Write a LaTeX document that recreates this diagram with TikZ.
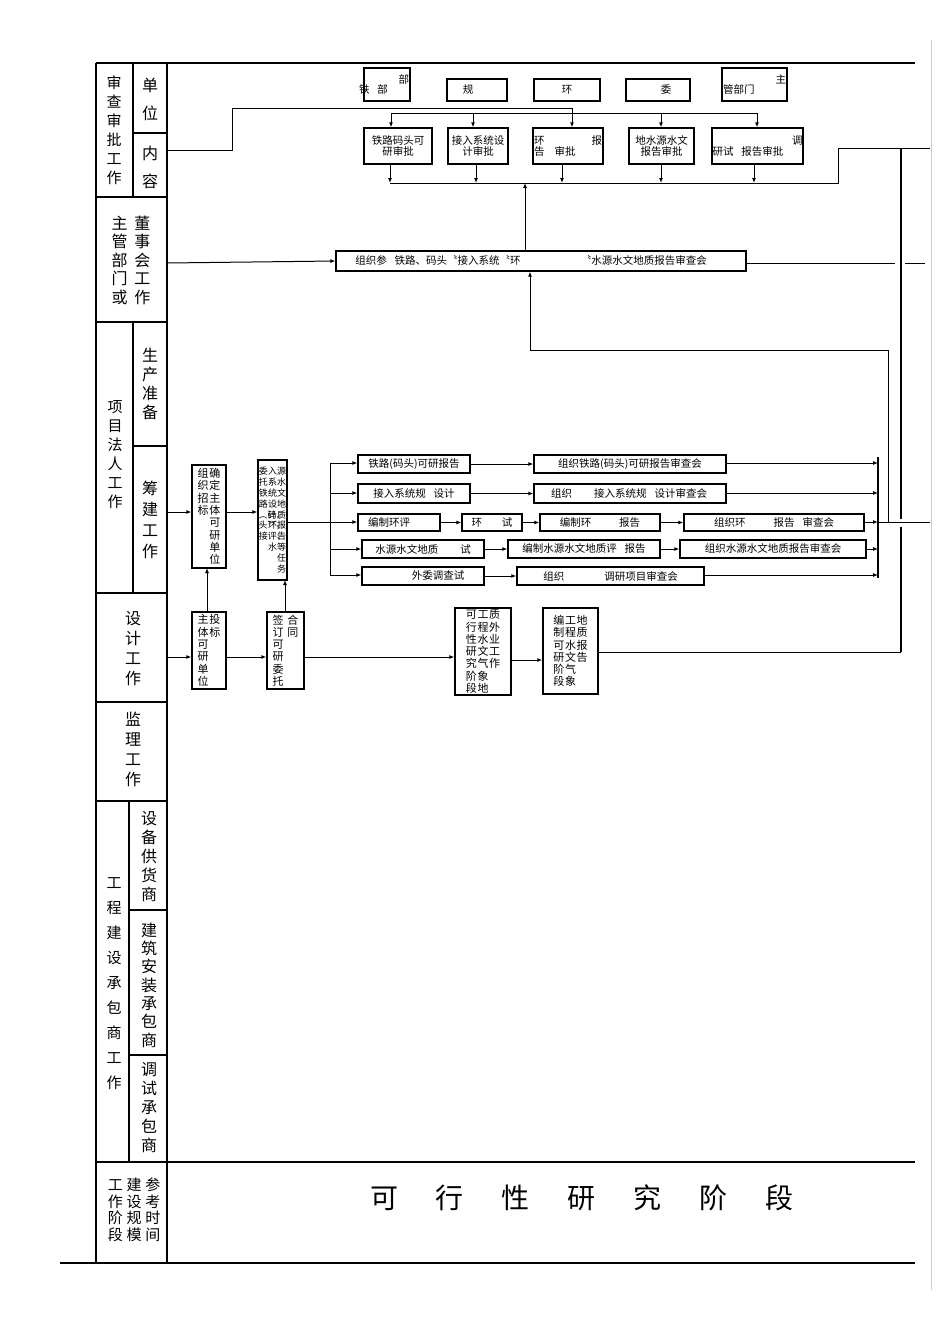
\documentclass[tikz,border=0pt]{standalone}
\usepackage{fontspec}
\setmainfont{Noto Sans CJK SC}
\usetikzlibrary{arrows.meta}
\XeTeXlinebreaklocale "zh"
\XeTeXlinebreakskip=0pt plus 1pt
\newcommand\vt[3]{{\fontsize{#1}{#2}\selectfont\parbox[t]{1.05em}{\centering #3}}}
\newcommand\bx[6]{\node[bxs,minimum width={(#4-#2)*1pt},minimum height={(#5-#3)*1pt}] (#1) at ({(#2+#4)/2},{(#3+#5)/2}) {#6};}
\tikzset{bxs/.style={draw,line width=1.3pt,inner sep=0pt,font=\fontsize{10.5}{11.5}\selectfont},
 frm/.style={line width=1.6pt},
 ln/.style={line width=1pt},
 ar/.style={line width=1pt,-{Latex[length=5pt,width=4pt]}},
 lab/.style={inner sep=0pt,anchor=center}}
\begin{document}
\begin{tikzpicture}[x=1pt,y=-1pt]
\useasboundingbox (0,0) rectangle (950,1344);
\fill[white] (0,0) rectangle (950,1344);
% frame
\draw[frm] (96,63) -- (915,63);
\draw[frm] (96,63) -- (96,1263);
\draw[frm] (167,63) -- (167,1263);
\draw[frm] (60,1263) -- (915,1263);
\draw[frm] (96,1162) -- (915,1162);
\draw[frm] (133,63) -- (133,197);
\draw[frm] (133,133) -- (167,133);
\draw[frm] (96,197) -- (167,197);
\draw[frm] (96,322) -- (167,322);
\draw[frm] (133,322) -- (133,593);
\draw[frm] (133,446) -- (167,446);
\draw[frm] (96,593) -- (167,593);
\draw[frm] (96,702) -- (167,702);
\draw[frm] (96,801) -- (167,801);
\draw[frm] (129,801) -- (129,1162);
\draw[frm] (129,910) -- (167,910);
\draw[frm] (129,1055) -- (167,1055);
\draw[gray!40,line width=0.8pt] (931,40) -- (931,1290);
% labels
\node[lab] (l1) at (114,130) {\vt{15}{19}{审查审批工作}};
\node[lab] (l2) at (150,99) {\vt{16}{28}{单位}};
\node[lab] (l3) at (150,167) {\vt{16}{28}{内容}};
\node[lab] (l4) at (131,260) {\vt{16}{18.5}{主管部门或}\hspace{6pt}\vt{16}{18.5}{董事会工作}};
\node[lab] (l5) at (115,455) {\vt{15}{19}{项目法人工作}};
\node[lab] (l6) at (150,384) {\vt{16}{19}{生产准备}};
\node[lab] (l7) at (150,520) {\vt{16}{21}{筹建工作}};
\node[lab] (l8) at (133,649) {\vt{16}{20}{设计工作}};
\node[lab] (l9) at (133,749) {\vt{16}{20}{监理工作}};
\node[lab] (l10) at (114,984) {\vt{15}{25}{工程建设承包商工作}};
\node[lab] (l11) at (149,857) {\vt{16}{19}{设备供货商}};
\node[lab] (l12) at (149,985) {\vt{16}{18.3}{建筑安装承包商}};
\node[lab] (l13) at (149,1108) {\vt{16}{19}{调试承包商}};
\node[lab] (l14) at (134,1210) {\vt{15}{16.5}{工作阶段}\hspace{3pt}\vt{15}{16.5}{建设规模}\hspace{3pt}\vt{15}{16.5}{参考时间}};
\node[lab,font=\fontsize{28}{30}\selectfont] (stage) at (582,1198) {可\hspace{38pt}行\hspace{38pt}性\hspace{38pt}研\hspace{38pt}究\hspace{38pt}阶\hspace{38pt}段};
% top unit boxes
\bx{u1}{364}{68}{410}{101}{\parbox{44pt}{\raggedleft 部\hspace{4pt}\\[-1pt]\raggedright\hspace{-6pt}铁\hspace{8pt}部}}
\bx{u2}{447}{79}{507}{101}{\hspace{-18pt}规}
\bx{u3}{534}{79}{600}{101}{环}
\bx{u4}{626}{79}{690}{101}{\hspace{16pt}委}
\bx{u5}{722}{68}{787}{101}{\parbox{63pt}{\raggedleft 主\hspace{3pt}\\[-1pt]\raggedright 管部门}}
% approval boxes
\bx{a1}{364}{128}{432}{164}{\parbox{66pt}{\centering 铁路码头可\\研审批}}
\bx{a2}{448}{128}{508}{164}{\parbox{60pt}{\centering 接入系统设\\计审批}}
\bx{a3}{533}{128}{603}{164}{\parbox{68pt}{环\hfill 报\\告\hspace{10pt}审批}}
\bx{a4}{629}{128}{694}{164}{\parbox{64pt}{\centering 地水源水文\\报告审批}}
\bx{a5}{712}{128}{803}{164}{\parbox{90pt}{\raggedleft 调\\\raggedright 研试\hspace{8pt}报告审批}}
\coordinate (c1) at (167,150);
\draw[ln] (c1) -- (232,150) -- (232,108) -- (572,108);
\draw[ar] (572,108) -- (a3.north -| 572,0);
\draw[ln] (391,113) -- (757,113);
\foreach \n/\x in {a1/391,a2/473,a4/661,a5/757}{\draw[ar] (\x,113) -- (\n.north -| \x,0);}
\foreach \n/\x in {a1/390,a2/476,a3/562,a4/661,a5/754}{\draw[ar] (\n.south -| \x,0) -- (\x,183);}
\draw[ln] (390,183) -- (838,183) -- (838,148) -- (930,148);
% meeting
\bx{m}{336}{251}{746}{271}{\hspace{-20pt}组织参\hspace{8pt}铁路、码头〝接入系统〝环\hspace{60pt}〝水源水文地质报告审查会}
\draw[ar] (167,263) -- (m.west);
\draw[ar] (m.north -| 525,0) -- (525,183);
\draw[ln] (746,263) -- (895,263);
\draw[ln] (905,263) -- (925,263);
\draw[ar] (888,522) -- (888,350) -- (530,350) -- (m.south -| 530,0);
\draw[line width=1.8pt] (901,148) -- (901,519);
\draw[line width=1.8pt] (901,527) -- (901,652);
% prep
\bx{p1}{192}{465}{226}{568}{\vt{11}{12.3}{组织招标}\vt{11}{12.3}{确定主体可研单位}}
\bx{p2}{258}{460}{287}{580}{\vt{9}{10.8}{委托铁路︵码头︶、接}\hspace{-0.4pt}\vt{9}{10.8}{入系统设计、环评、水}\hspace{-0.4pt}\vt{9}{10.8}{源水文地质报告等任务}}
\draw[ar] (167,512) -- (p1.west |- 0,512);
\draw[ar] (p1.east |- 0,512) -- (p2.west |- 0,512);
\draw[ln] (p2.east |- 0,522) -- (330,522);
\draw[ln] (330,463) -- (330,575);
\bx{r11}{358}{455}{470}{473}{铁路(码头)可研报告}
\bx{r12}{534}{455}{726}{473}{组织铁路(码头)可研报告审查会}
\bx{r21}{358}{484}{470}{503}{接入系统规\hspace{8pt}设计}
\bx{r22}{534}{484}{726}{503}{\hspace{-2pt}组织\hspace{22pt}接入系统规\hspace{8pt}设计审查会}
\bx{r31}{358}{514}{440}{531}{\hspace{-20pt}编制环评}
\bx{r32}{462}{514}{522}{531}{环\hspace{20pt}试}
\bx{r33}{540}{514}{660}{531}{编制环\hspace{28pt}报告}
\bx{r34}{684}{514}{864}{531}{组织环\hspace{28pt}报告\hspace{8pt}审查会}
\bx{r41}{362}{540}{484}{558}{水源水文地质\hspace{22pt}试}
\bx{r42}{508}{540}{660}{558}{编制水源水文地质评\hspace{8pt}报告}
\bx{r43}{680}{540}{866}{558}{组织水源水文地质报告审查会}
\bx{r51}{362}{567}{484}{585}{\hspace{30pt}外委调查试}
\bx{r52}{517}{567}{704}{585}{组织\hspace{40pt}调研项目审查会}
\foreach \n/\y in {r11/463,r21/493,r31/522,r41/549,r51/575}{\draw[ar] (330,\y) -- (\n.west |- 0,\y);}
\draw[ar] (r11) -- (r12);
\draw[ar] (r21) -- (r22);
\draw[ar] (r31) -- (r32);
\draw[ar] (r32) -- (r33);
\draw[ar] (r33) -- (r34);
\draw[ar] (r41) -- (r42);
\draw[ar] (r42) -- (r43);
\draw[ar] (r51) -- (r52);
\draw[line width=1.8pt] (878,457) -- (878,578);
\foreach \n/\y in {r12/463,r22/493,r34/522,r43/549,r52/575}{\draw[ar] (\n.east |- 0,\y) -- (878,\y);}
\draw[ln] (878,522) -- (930,522);
% design
\bx{d1}{192}{612}{226}{689}{\vt{11}{12.3}{主体可研单位}\vt{11}{12.3}{投标}}
\bx{d2}{267}{612}{304}{689}{\vt{11}{12.3}{签订可研委托}\hspace{3pt}\vt{11}{12.3}{合同}}
\bx{d3}{455}{608}{511}{695}{\vt{11}{12.3}{可行性研究阶段}\vt{11}{12.3}{工程水文气象地}\vt{11}{12.3}{质外业工作}}
\bx{d4}{543}{608}{598}{694}{\vt{11}{12.3}{编制可研阶段}\vt{11}{12.3}{工程水文气象}\vt{11}{12.3}{地质报告}}
\draw[ar] (167,657) -- (d1.west |- 0,657);
\draw[ar] (d1.north -| 207,0) -- (207,568);
\draw[ar] (d1.east |- 0,657) -- (d2.west |- 0,657);
\draw[ar] (d2.north -| 285,0) -- (285,580);
\draw[ar] (d2.east |- 0,657) -- (d3.west |- 0,657);
\draw[ar] (d3.east |- 0,660) -- (d4.west |- 0,660);
\draw[ln] (d4.east |- 0,652) -- (901,652);
\end{tikzpicture}
\end{document}
